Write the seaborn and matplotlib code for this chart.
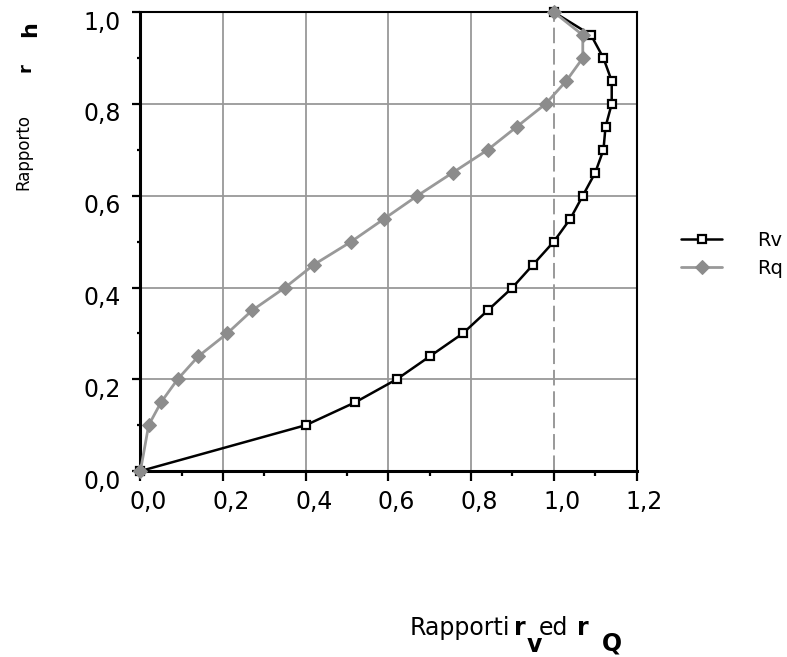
import matplotlib
matplotlib.use("Agg")
import matplotlib.pyplot as plt
import matplotlib.transforms as mtransforms
from matplotlib.ticker import MultipleLocator, FuncFormatter
import numpy as np
import pandas as pd
import seaborn as sns

# ---- data ----
h_ratio = [0.00, 0.10, 0.15, 0.20, 0.25, 0.30, 0.35, 0.40, 0.45, 0.50,
           0.55, 0.60, 0.65, 0.70, 0.75, 0.80, 0.85, 0.90, 0.95, 1.00]
rv_values = [0.00, 0.40, 0.52, 0.62, 0.70, 0.78, 0.84, 0.90, 0.95, 1.00,
             1.04, 1.07, 1.10, 1.12, 1.125, 1.14, 1.14, 1.12, 1.09, 1.00]
rq_values = [0.00, 0.02, 0.05, 0.09, 0.14, 0.21, 0.27, 0.35, 0.42, 0.51,
             0.59, 0.67, 0.755, 0.84, 0.91, 0.98, 1.03, 1.07, 1.07, 1.00]
series_names = ["Rv", "Rq"]
ref_x = 1.0

sns.set_theme(style="white")
plt.rcParams["font.family"] = ["DejaVu Sans"]
plt.rcParams["text.color"] = "black"

fig = plt.figure(figsize=(7.87, 6.57), dpi=100)
ax = fig.add_axes([0.1784, 0.2830, 0.6304, 0.6985])

df = pd.DataFrame({"h": h_ratio, "Rv": rv_values, "Rq": rq_values})

sns.lineplot(data=df, x="Rv", y="h", sort=False, estimator=None, ax=ax,
             color="black", lw=1.8, marker="s", markersize=6,
             markerfacecolor="white", markeredgecolor="black",
             markeredgewidth=1.6, label=series_names[0], clip_on=False, zorder=3)
sns.lineplot(data=df, x="Rq", y="h", sort=False, estimator=None, ax=ax,
             color="#999999", lw=2.0, marker="D", markersize=7,
             markerfacecolor="#8c8c8c", markeredgecolor="#8c8c8c",
             label=series_names[1], clip_on=False, zorder=4)

ax.axvline(ref_x, color="#999999", lw=1.4, ls=(0, (8, 3)), zorder=1.5)

ax.set_xlim(0, 1.2)
ax.set_ylim(0, 1.0)
ax.xaxis.set_major_locator(MultipleLocator(0.2))
ax.xaxis.set_minor_locator(MultipleLocator(0.1))
ax.yaxis.set_major_locator(MultipleLocator(0.2))
ax.yaxis.set_minor_locator(MultipleLocator(0.1))
fmt = FuncFormatter(lambda v, _: f"{v:.1f}".replace(".", ","))
ax.xaxis.set_major_formatter(fmt)
ax.yaxis.set_major_formatter(fmt)

ax.set_axisbelow(True)
ax.grid(True, which="major", color="#999999", lw=1.3)
for t in ax.xaxis.get_major_ticks():
    if abs(t.get_loc() - ref_x) < 1e-6:
        t.gridline.set_visible(False)

ax.tick_params(axis="x", which="major", direction="out", length=7.5, width=1.6,
               color="black", labelsize=17, labelcolor="black", pad=5)
ax.tick_params(axis="y", which="major", direction="out", length=6, width=1.6,
               color="black", labelsize=17, labelcolor="black", pad=8)
ax.tick_params(axis="x", which="minor", direction="out", length=3.5, width=1.6,
               color="black")
ax.tick_params(axis="y", which="minor", direction="out", length=2.5, width=1.6,
               color="black")
ax.tick_params(bottom=True, left=True, which="both")

for side in ["left", "bottom"]:
    ax.spines[side].set_linewidth(2.2)
    ax.spines[side].set_color("black")
for side in ["top", "right"]:
    ax.spines[side].set_linewidth(1.5)
    ax.spines[side].set_color("black")

ax.set_xlabel("")
ax.set_ylabel("")

leg = ax.legend(loc="center left", bbox_to_anchor=(0.8436, 0.6126),
                bbox_transform=fig.transFigure, frameon=False, fontsize=14,
                handlelength=2.1, handletextpad=1.8, labelspacing=0.45)
for txt in leg.get_texts():
    txt.set_color("black")

# y label pieces
fig.text(23 / 787, 1 - 152 / 657, "Rapporto", rotation=90, ha="center",
         va="center", fontsize=12)
fig.text(26 / 787, 1 - 68 / 657, "r", rotation=90, ha="center", va="center",
         fontsize=13, fontweight="bold")
fig.text(30 / 787, 1 - 29 / 657, "h", rotation=90, ha="center", va="center",
         fontsize=16, fontweight="bold")

# x label pieces
fs = 17
fig.text(410 / 787, 1 - 635 / 657, "Rapporti", ha="left", va="baseline", fontsize=fs)
fig.text(514 / 787, 1 - 635 / 657, "r", ha="left", va="baseline", fontsize=fs,
         fontweight="bold")
fig.text(527 / 787, 1 - 652 / 657, "v", ha="left", va="baseline", fontsize=fs,
         fontweight="bold")
fig.text(539 / 787, 1 - 635 / 657, "ed", ha="left", va="baseline", fontsize=fs)
fig.text(577 / 787, 1 - 635 / 657, "r", ha="left", va="baseline", fontsize=fs,
         fontweight="bold")
fig.text(602 / 787, 1 - 651 / 657, "Q", ha="left", va="baseline", fontsize=fs,
         fontweight="bold")

# shift tick labels like the reference (labels sit lower/right of ticks)
fig.canvas.draw()
dx_x = mtransforms.ScaledTranslation(8 / 100, -2 / 100, fig.dpi_scale_trans)
dy_y = mtransforms.ScaledTranslation(0, -8 / 100, fig.dpi_scale_trans)
for lab in ax.get_xticklabels():
    lab.set_transform(lab.get_transform() + dx_x)
for lab in ax.get_yticklabels():
    lab.set_transform(lab.get_transform() + dy_y)

fig.savefig("out.png", dpi=100)
